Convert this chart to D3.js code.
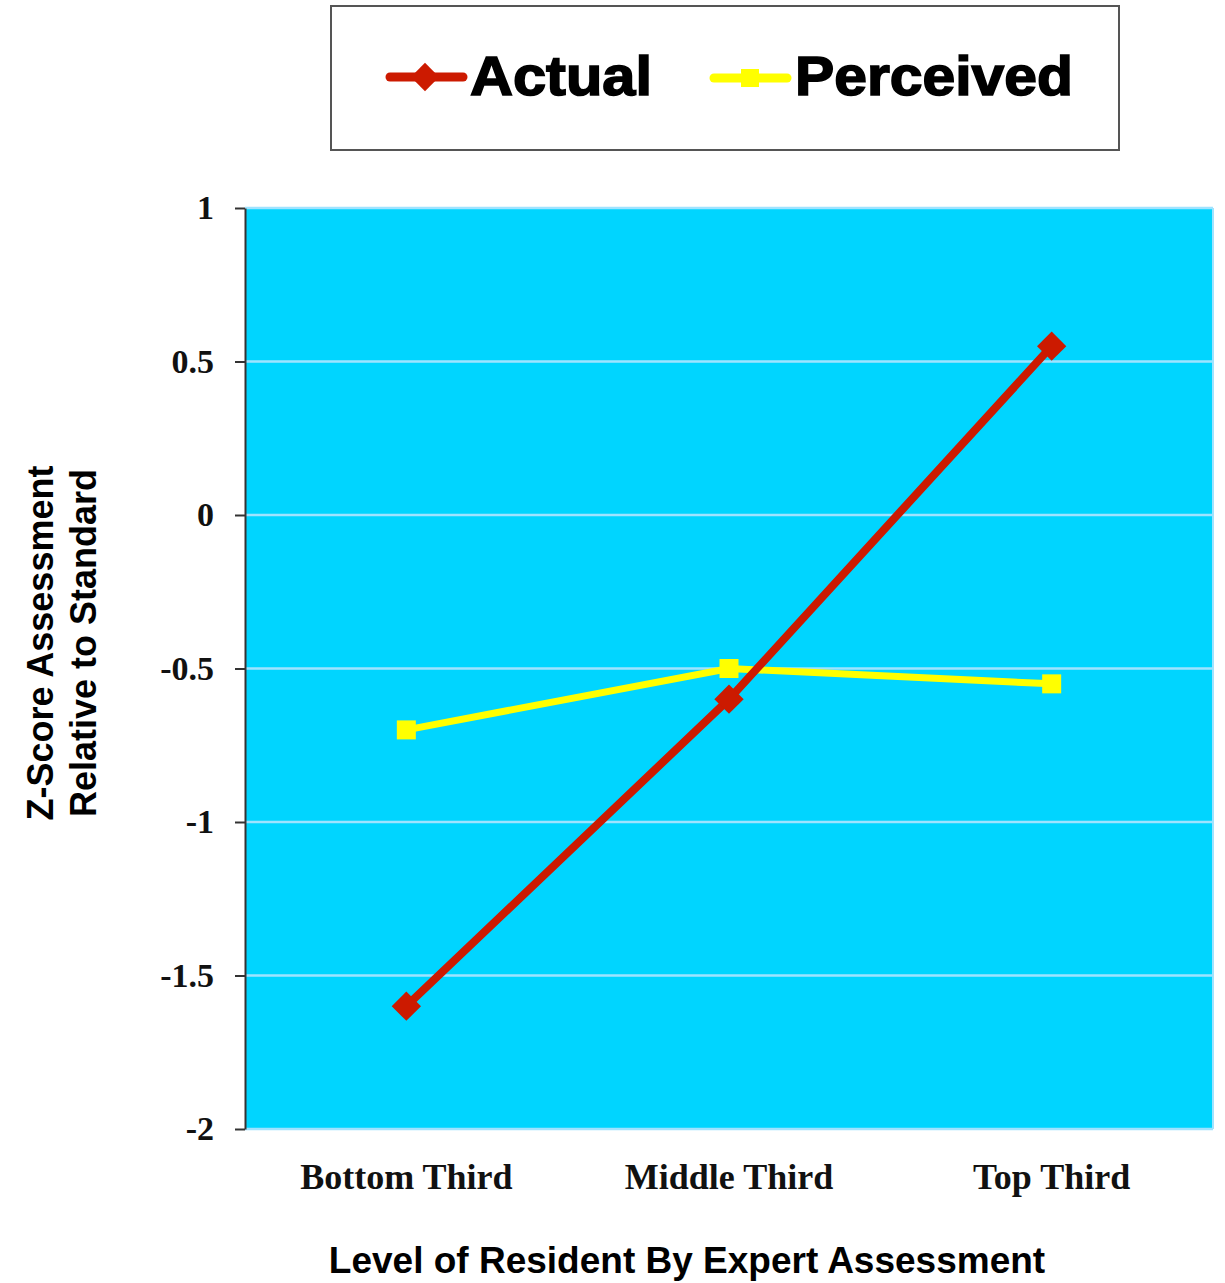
<!DOCTYPE html>
<html>
<head>
<meta charset="utf-8">
<script src="https://cdn.jsdelivr.net/npm/d3@7"></script>
<style>
  html, body { margin: 0; padding: 0; background: #ffffff; }
  svg { display: block; }
</style>
</head>
<body>
<svg id="chart" width="1225" height="1283"></svg>
<script>
// Resident self-assessment vs. expert assessment, in z-scores
const categories = ["Bottom Third", "Middle Third", "Top Third"];
const actual = [-1.6, -0.6, 0.55];
const perceived = [-0.7, -0.5, -0.55];
const yTicks = [1, 0.5, 0, -0.5, -1, -1.5, -2];
const yTickLabels = ["1", "0.5", "0", "-0.5", "-1", "-1.5", "-2"];
const seriesNames = ["Actual", "Perceived"];

const svg = d3.select("#chart");
const plot = { left: 245, right: 1213, top: 208, bottom: 1129 };

const x = d3.scaleBand().domain(categories).range([plot.left, plot.right]);
const y = d3.scaleLinear().domain([-2, 1]).range([plot.bottom, plot.top]);
const cx = d => x(d) + x.bandwidth() / 2;

// Plot background
svg.append("rect")
  .attr("x", plot.left).attr("y", plot.top)
  .attr("width", plot.right - plot.left).attr("height", plot.bottom - plot.top)
  .attr("fill", "#00d5ff");

// Horizontal gridlines
svg.append("g").selectAll("line").data(yTicks).join("line")
  .attr("x1", plot.left).attr("x2", plot.right)
  .attr("y1", d => y(d)).attr("y2", d => y(d))
  .attr("stroke", "#9fe3ff").attr("stroke-width", 2.5);

// Right border
svg.append("line")
  .attr("x1", plot.right).attr("x2", plot.right)
  .attr("y1", plot.top).attr("y2", plot.bottom)
  .attr("stroke", "#9fe3ff").attr("stroke-width", 2);

// Y axis
const yAxis = d3.axisLeft(y)
  .tickValues(yTicks)
  .tickFormat((d, i) => yTickLabels[i])
  .tickSize(10)
  .tickSizeOuter(0)
  .tickPadding(21);
const gy = svg.append("g").attr("transform", `translate(${plot.left},0)`).call(yAxis);
gy.select(".domain").attr("stroke", "#333").attr("stroke-width", 2);
gy.selectAll(".tick line").attr("stroke", "#333").attr("stroke-width", 2);
gy.selectAll(".tick text")
  .attr("font-family", "'Liberation Serif', 'DejaVu Serif', serif")
  .attr("font-weight", "bold")
  .attr("font-size", 34)
  .attr("fill", "#111");

// X category labels
const xAxis = d3.axisBottom(x).tickSize(0).tickPadding(34);
const gx = svg.append("g").attr("transform", `translate(0,${plot.bottom})`).call(xAxis);
gx.select(".domain").remove();
gx.selectAll(".tick text")
  .attr("font-family", "'Liberation Serif', 'DejaVu Serif', serif")
  .attr("font-weight", "bold")
  .attr("font-size", 36)
  .attr("fill", "#111");

// Lines
const line = d3.line().x((d, i) => cx(categories[i])).y(d => y(d));

svg.append("path").datum(perceived)
  .attr("d", line).attr("fill", "none")
  .attr("stroke", "#ffff00").attr("stroke-width", 7);

svg.append("path").datum(actual)
  .attr("d", line).attr("fill", "none")
  .attr("stroke", "#cc1a00").attr("stroke-width", 8);

// Markers
svg.append("g").selectAll("rect").data(perceived).join("rect")
  .attr("x", (d, i) => cx(categories[i]) - 9.5)
  .attr("y", d => y(d) - 9.5)
  .attr("width", 19).attr("height", 19)
  .attr("fill", "#ffff00");

const diamond = d3.symbol().type(d3.symbolSquare).size(430);
svg.append("g").selectAll("path").data(actual).join("path")
  .attr("d", diamond)
  .attr("transform", (d, i) => `translate(${cx(categories[i])},${y(d)}) rotate(45)`)
  .attr("fill", "#cc1a00");

// Axis titles
const sans = "'Liberation Sans', Arial, sans-serif";
svg.append("text")
  .attr("transform", "translate(53,643) rotate(-90)")
  .attr("text-anchor", "middle")
  .attr("font-family", sans).attr("font-weight", "bold").attr("font-size", 36)
  .attr("fill", "#000")
  .text("Z-Score Assessment");
svg.append("text")
  .attr("transform", "translate(96,643) rotate(-90)")
  .attr("text-anchor", "middle")
  .attr("font-family", sans).attr("font-weight", "bold").attr("font-size", 36)
  .attr("fill", "#000")
  .text("Relative to Standard");

svg.append("text")
  .attr("x", 687).attr("y", 1273)
  .attr("text-anchor", "middle")
  .attr("font-family", sans).attr("font-weight", "bold").attr("font-size", 37)
  .attr("fill", "#000")
  .text("Level of Resident By Expert Assessment");

// Legend
const legend = svg.append("g");
legend.append("rect")
  .attr("x", 331).attr("y", 6).attr("width", 788).attr("height", 144)
  .attr("fill", "#fff").attr("stroke", "#555").attr("stroke-width", 2);

// Actual entry
legend.append("line")
  .attr("x1", 390).attr("x2", 463).attr("y1", 77).attr("y2", 77)
  .attr("stroke", "#cc1a00").attr("stroke-width", 9).attr("stroke-linecap", "round");
legend.append("path")
  .attr("d", d3.symbol().type(d3.symbolSquare).size(400))
  .attr("transform", "translate(425,77) rotate(45)")
  .attr("fill", "#cc1a00");
legend.append("text")
  .attr("x", 470).attr("y", 95)
  .attr("font-family", sans).attr("font-weight", "bold").attr("font-size", 55)
  .attr("textLength", 182).attr("lengthAdjust", "spacingAndGlyphs")
  .attr("stroke", "#000").attr("stroke-width", 1.6)
  .attr("fill", "#000")
  .text(seriesNames[0]);

// Perceived entry
legend.append("line")
  .attr("x1", 714).attr("x2", 787).attr("y1", 78).attr("y2", 78)
  .attr("stroke", "#ffff00").attr("stroke-width", 9).attr("stroke-linecap", "round");
legend.append("rect")
  .attr("x", 741).attr("y", 69).attr("width", 18).attr("height", 18)
  .attr("fill", "#ffff00");
legend.append("text")
  .attr("x", 795).attr("y", 95)
  .attr("font-family", sans).attr("font-weight", "bold").attr("font-size", 55)
  .attr("textLength", 278).attr("lengthAdjust", "spacingAndGlyphs")
  .attr("stroke", "#000").attr("stroke-width", 1.6)
  .attr("fill", "#000")
  .text(seriesNames[1]);
</script>
</body>
</html>
